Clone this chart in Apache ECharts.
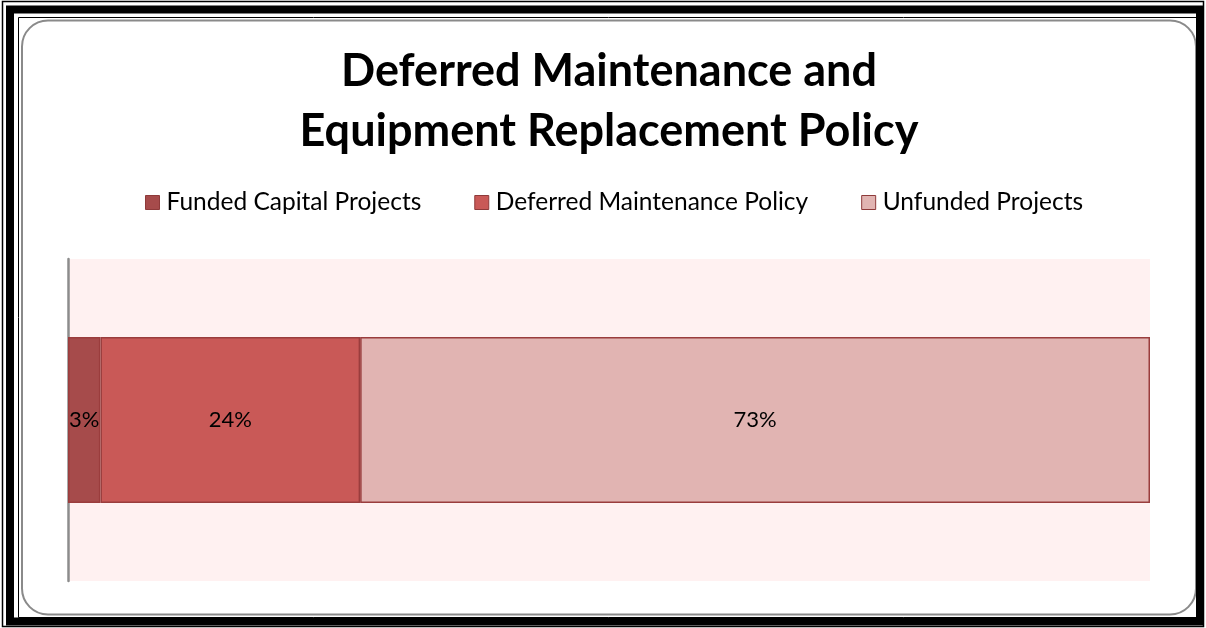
<!DOCTYPE html>
<html>
<head>
<meta charset="utf-8">
<script src="https://cdn.jsdelivr.net/npm/echarts@6/dist/echarts.min.js"></script>
<style>
  html, body { margin: 0; padding: 0; background: #fff; }
  #chart { width: 1206px; height: 628px; }
</style>
</head>
<body>
<div id="chart"></div>
<script>
// Share of deferred maintenance and equipment replacement needs
const categories = ['Policy'];
const seriesNames = ['Funded Capital Projects', 'Deferred Maintenance Policy', 'Unfunded Projects'];
const fundedValues = [3];
const deferredValues = [24];
const unfundedValues = [73];
const seriesColors = ['#A64B4B', '#C95957', '#E1B4B2'];

const FONT = 'Lato, "Open Sans", sans-serif';

const chart = echarts.init(document.getElementById('chart'), null, { renderer: 'canvas' });

function barSeries(name, values, color) {
  return {
    name: name,
    type: 'bar',
    stack: 'total',
    barWidth: '51.5%',
    data: values,
    itemStyle: { color: color, borderColor: '#9A3D3D', borderWidth: 1.5 },
    label: {
      show: true,
      position: 'inside',
      formatter: p => p.value + '%',
      color: '#000',
      fontFamily: FONT,
      fontSize: 22
    },
    emphasis: { disabled: true }
  };
}

chart.setOption({
  animation: false,
  backgroundColor: '#fff',
  title: {
    text: 'Deferred Maintenance and\nEquipment Replacement Policy',
    left: 604,
    top: 36,
    textAlign: 'center',
    textStyle: {
      fontFamily: FONT,
      fontWeight: 'bold',
      fontSize: 45,
      lineHeight: 60,
      color: '#000'
    }
  },
  legend: {
    data: seriesNames,
    left: 145,
    top: 190,
    padding: 0,
    itemWidth: 14,
    itemHeight: 14,
    itemGap: 53,
    icon: 'rect',
    itemStyle: { borderColor: '#8E3A3A', borderWidth: 1 },
    textStyle: { fontFamily: FONT, fontSize: 24.5, color: '#000', padding: [0, 0, 0, 2] }
  },
  grid: {
    left: 68,
    right: 56,
    top: 259,
    bottom: 47,
    show: true,
    backgroundColor: '#FFF1F1',
    borderWidth: 0
  },
  xAxis: {
    type: 'value',
    min: 0,
    max: 100,
    show: false
  },
  yAxis: {
    type: 'category',
    data: categories,
    axisLine: { show: true, lineStyle: { color: '#8C8C8C', width: 2.5 } },
    axisTick: { show: false },
    axisLabel: { show: false }
  },
  graphic: [
    // outer thin line
    { type: 'rect', shape: { x: 2.5, y: 1.5, width: 1201, height: 625 }, style: { fill: null, stroke: '#000', lineWidth: 1.5 } },
    // thick frame
    { type: 'rect', shape: { x: 10, y: 9.5, width: 1190, height: 612 }, style: { fill: null, stroke: '#000', lineWidth: 8 } },
    // inner thin line
    { type: 'rect', shape: { x: 18.5, y: 17.5, width: 1180, height: 600 }, style: { fill: null, stroke: '#000', lineWidth: 1 } },
    // rounded chart area border
    { type: 'rect', shape: { x: 22, y: 20.5, width: 1174, height: 594, r: 26 }, style: { fill: '#fff', stroke: '#8A8A8A', lineWidth: 2 }, z: -10 }
  ],
  series: [
    barSeries(seriesNames[0], fundedValues, seriesColors[0]),
    barSeries(seriesNames[1], deferredValues, seriesColors[1]),
    barSeries(seriesNames[2], unfundedValues, seriesColors[2])
  ]
});
</script>
</body>
</html>
